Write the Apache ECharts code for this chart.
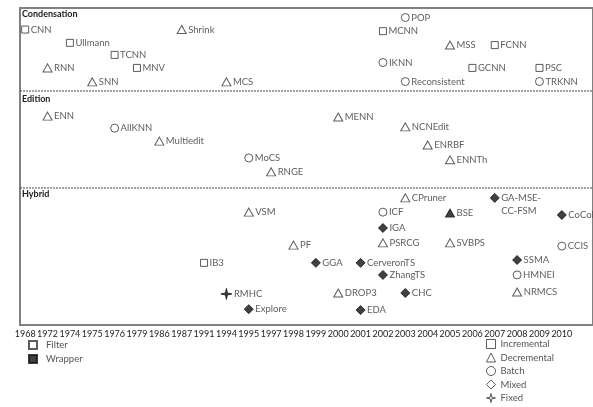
<!DOCTYPE html>
<html>
<head>
<meta charset="utf-8">
<script src="https://cdn.jsdelivr.net/npm/echarts@6/dist/echarts.min.js"></script>
<style>
  html, body { margin: 0; padding: 0; background: #fff; }
  #chart { width: 593px; height: 407px; }
</style>
</head>
<body>
<div id="chart"></div>
<script>
  // x categories (publication year)
  const years = ['1968', '1972', '1974', '1975', '1976', '1979', '1986', '1987', '1991', '1994', '1995', '1997', '1998',
    '1999', '2000', '2001', '2002', '2003', '2004', '2005', '2006', '2007', '2008', '2009', '2010']

  // one entry per method; level is the vertical slot (0 = top, 100 = bottom)
  const methodNames = [
    'POP', 'CNN', 'Shrink', 'MCNN', 'Ullmann', 'MSS', 'FCNN', 'TCNN', 'RNN', 'MNV', 'IKNN', 'GCNN', 'PSC', 'SNN', 'MCS', 'Reconsistent', 'TRKNN',
    'ENN', 'MENN', 'AllKNN', 'NCNEdit', 'Multiedit', 'ENRBF', 'MoCS', 'ENNTh', 'RNGE',
    'CPruner', 'GA-MSE-\nCC-FSM', 'VSM', 'ICF', 'BSE', 'CoCoI', 'IGA', 'PF', 'PSRCG', 'SVBPS', 'CCIS', 'IB3', 'GGA', 'CerveronTS', 'SSMA',
    'ZhangTS', 'HMNEI', 'RMHC', 'DROP3', 'CHC', 'NRMCS', 'Explore', 'EDA'
  ]
  const methodYears = [
    '2003', '1968', '1987', '2002', '1974', '2005', '2007', '1976', '1972', '1979', '2002', '2006', '2009', '1975', '1994', '2003', '2009',
    '1972', '2000', '1976', '2003', '1986', '2004', '1995', '2005', '1997',
    '2003', '2007', '1995', '2002', '2005', '2010', '2002', '1998', '2002', '2005', '2010', '1991', '1999', '2001', '2008',
    '2002', '2008', '1994', '2000', '2003', '2008', '1995', '2001'
  ]
  const methodLevels = [
    3.0, 6.8, 6.8, 7.3, 11.0, 11.7, 11.7, 14.8, 18.9, 18.9, 17.2, 18.9, 18.9, 23.3, 23.3, 23.2, 23.2,
    34.1, 34.4, 37.9, 37.5, 42.0, 43.2, 47.3, 47.9, 51.7,
    59.9, 59.9, 64.4, 64.4, 64.7, 65.3, 69.4, 74.8, 74.1, 74.1, 75.1, 80.4, 80.4, 80.4, 79.5,
    84.2, 84.2, 90.2, 89.9, 89.9, 89.6, 95.0, 95.3
  ]
  const methodTypes = [
    'Batch', 'Incremental', 'Decremental', 'Incremental', 'Incremental', 'Decremental', 'Incremental', 'Incremental', 'Decremental',
    'Incremental', 'Batch', 'Incremental', 'Incremental', 'Decremental', 'Decremental', 'Batch', 'Batch',
    'Decremental', 'Decremental', 'Batch', 'Decremental', 'Decremental', 'Decremental', 'Batch', 'Decremental', 'Decremental',
    'Decremental', 'Mixed', 'Decremental', 'Batch', 'Decremental', 'Mixed', 'Mixed', 'Decremental', 'Decremental', 'Decremental',
    'Batch', 'Incremental', 'Mixed', 'Mixed', 'Mixed', 'Mixed', 'Batch', 'Fixed', 'Decremental', 'Mixed', 'Decremental', 'Mixed', 'Mixed'
  ]
  const wrapperMethods = ['GA-MSE-\nCC-FSM', 'BSE', 'CoCoI', 'IGA', 'GGA', 'CerveronTS', 'SSMA', 'ZhangTS', 'RMHC', 'CHC', 'Explore', 'EDA']

  const typeNames = ['Incremental', 'Decremental', 'Batch', 'Mixed', 'Fixed']
  const evalNames = ['Filter', 'Wrapper']

  const fixedStar = 'path://M5,0 L5.9,4.1 L10,5 L5.9,5.9 L5,10 L4.1,5.9 L0,5 L4.1,4.1 Z'
  const symbols = {Incremental: 'rect', Decremental: 'triangle', Batch: 'circle', Mixed: 'diamond', Fixed: fixedStar}
  const symbolSizes = {Incremental: 7, Decremental: [9, 8], Batch: 8, Mixed: 9, Fixed: 11}

  const textColor = '#333'
  const lineColor = '#333'
  const font = 'Lato'

  let chart = echarts.init(document.getElementById('chart'))

  let series = typeNames.map(function (type) {
    let data = []
    methodNames.forEach(function (name, i) {
      if (methodTypes[i] !== type) return
      let item = {name: name, value: [methodYears[i], methodLevels[i]]}
      if (wrapperMethods.indexOf(name) >= 0) {
        item.itemStyle = {color: '#111', borderColor: '#111'}
      }
      if (name.indexOf('\n') >= 0) {
        item.label = {offset: [0, 7]}
      }
      data.push(item)
    })
    return {
      name: type,
      type: 'scatter',
      symbol: symbols[type],
      symbolSize: symbolSizes[type],
      itemStyle: {color: '#fff', borderColor: lineColor, borderWidth: 1},
      label: {
        show: true,
        position: 'right',
        distance: 1.5,
        formatter: '{b}',
        color: textColor,
        fontFamily: font,
        fontSize: 9.5,
        lineHeight: 13
      },
      emphasis: {disabled: true},
      data: data
    }
  })

  // empty series so the Filter / Wrapper legend entries exist
  series.push({
    name: 'Filter', type: 'scatter', symbol: 'rect', data: [],
    itemStyle: {color: '#fff', borderColor: lineColor, borderWidth: 1}
  })
  series.push({
    name: 'Wrapper', type: 'scatter', symbol: 'rect', data: [],
    itemStyle: {color: '#111', borderColor: '#111', borderWidth: 1}
  })

  const hollow = {color: '#fff', borderColor: lineColor, borderWidth: 1}

  let options = {
    animation: false,
    grid: {left: 14, right: 20, top: 8, bottom: 82},
    xAxis: {
      type: 'category',
      boundaryGap: true,
      data: years,
      axisLine: {show: false},
      axisTick: {show: false},
      splitLine: {show: false},
      axisLabel: {color: '#222', fontFamily: font, fontSize: 9, margin: 5, interval: 0}
    },
    yAxis: {
      type: 'value',
      min: 0,
      max: 100,
      inverse: true,
      show: false,
      splitLine: {show: false}
    },
    legend: [
      {
        orient: 'vertical',
        left: 28,
        top: 340,
        padding: 0,
        itemWidth: 8,
        itemHeight: 8,
        itemGap: 4,
        selectedMode: false,
        textStyle: {color: '#555', fontFamily: font, fontSize: 9.5, lineHeight: 10, padding: [0, 0, 0, 4]},
        data: evalNames
      },
      {
        orient: 'vertical',
        left: 486,
        top: 339,
        padding: 0,
        itemWidth: 9,
        itemHeight: 9,
        itemGap: 3.5,
        selectedMode: false,
        textStyle: {color: '#555', fontFamily: font, fontSize: 9.5, lineHeight: 10},
        data: typeNames.map(function (t) {
          return {name: t, itemStyle: hollow}
        })
      }
    ],
    graphic: [
      {type: 'rect', z: -1, shape: {x: 20, y: 8, width: 573, height: 317}, style: {fill: 'none', stroke: '#808080', lineWidth: 2}},
      {type: 'line', shape: {x1: 20, y1: 91, x2: 593, y2: 91}, style: {stroke: '#444', lineWidth: 1, lineDash: [2, 1]}},
      {type: 'line', shape: {x1: 20, y1: 188, x2: 593, y2: 188}, style: {stroke: '#444', lineWidth: 1, lineDash: [2, 1]}},
      {type: 'text', left: 22, top: 10, style: {text: 'Condensation', fill: '#222', font: 'bold 9px Lato'}},
      {type: 'text', left: 22, top: 95, style: {text: 'Edition', fill: '#222', font: 'bold 9px Lato'}},
      {type: 'text', left: 22, top: 190, style: {text: 'Hybrid', fill: '#222', font: 'bold 9px Lato'}}
    ],
    series: series
  }
  chart.setOption(options)
</script>
</body>
</html>
